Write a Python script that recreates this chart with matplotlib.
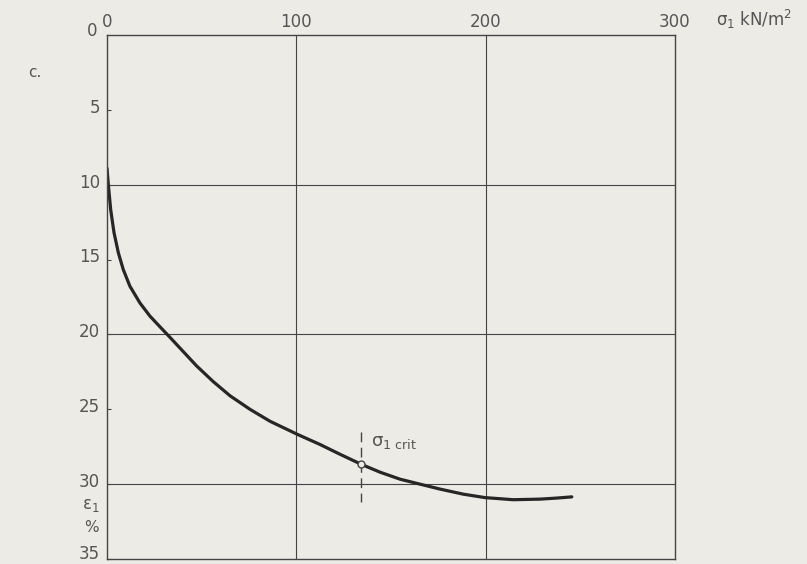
#!/usr/bin/env python3
# -*- coding: UTF-8 -*-
""" strain vs. vertical stress curve (scan recreation) """

import matplotlib
matplotlib.use("Agg")
import matplotlib.pyplot as plt
import matplotlib.transforms as mtransforms

# data
sigma = [0, 0.7, 1.95, 3.7, 6.0, 8.6, 12.1, 17.4, 22.7, 28.8, 33.3, 40.3,
         47.3, 56.1, 65, 75.5, 86.1, 101, 112.5, 123, 134.2, 144.2, 154.8,
         165.3, 175.9, 188.2, 199.7, 214.6, 228.8, 237.6, 245.5]
eps = [8.9, 10.0, 11.67, 13.2, 14.55, 15.67, 16.78, 17.9, 18.78, 19.6,
       20.2, 21.15, 22.1, 23.15, 24.1, 25.0, 25.8, 26.7, 27.35, 28.0, 28.67,
       29.2, 29.67, 30.0, 30.33, 30.67, 30.9, 31.04, 31.0, 30.93, 30.85]
crit_sigma = 134.2
crit_eps = 28.67
crit_range = [26.5, 31.2]
x_ticks = [0, 100, 200, 300]
y_grid = [10, 20, 30]
y_minor = [5, 15, 25]

bg = "#ecebe6"
ink = "#444444"
txt = "#555555"
plt.rcParams['font.family'] = ['DejaVu Sans']
plt.rcParams['mathtext.fontset'] = 'dejavusans'

fig = plt.figure(figsize=(8.07, 5.64), dpi=100, facecolor=bg)
ax = fig.add_axes([107/807, 1-559/564, 568/807, 524/564])
ax.set_facecolor(bg)
ax.set_xlim(0, 300)
ax.set_ylim(35, 0)

for s in ax.spines.values():
    s.set_color(ink)
    s.set_linewidth(1.0)

# grid lines
for xv in x_ticks[1:-1]:
    ax.axvline(xv, color=ink, lw=0.8)
for yv in y_grid:
    ax.axhline(yv, color=ink, lw=0.8)

ax.xaxis.tick_top()
ax.set_xticks(x_ticks)
ax.set_xticklabels([str(v) for v in x_ticks], fontsize=12, color=txt)
ax.tick_params(axis='x', length=0, pad=3)

y_ticks = y_minor + y_grid + [35]
ax.set_yticks(y_ticks)
ax.set_yticklabels([str(v) for v in y_ticks], fontsize=12, color=txt)
ax.tick_params(axis='y', direction='in', length=3, color=ink, pad=5)
# labels in the scan sit a little above their ticks
shift = mtransforms.ScaledTranslation(0, 3/72, fig.dpi_scale_trans)
shift_low = mtransforms.ScaledTranslation(0, 5/72, fig.dpi_scale_trans)
labs = ax.get_yticklabels()
for lab in labs[:-1]:
    lab.set_transform(lab.get_transform() + shift)
labs[-1].set_transform(labs[-1].get_transform() + shift_low)

# main curve
ax.plot(sigma, eps, color="#262626", lw=2.3, solid_capstyle='round',
        solid_joinstyle='round')

# critical stress marker
ax.plot([crit_sigma, crit_sigma], crit_range, color=ink, lw=1.0,
        ls=(0, (7, 4)))
ax.plot(crit_sigma, crit_eps, 'o', ms=5, mfc=bg, mec=ink, mew=1.0, zorder=5)
ax.text(crit_sigma + 5, 27.2, "σ$_{1\\ \\mathrm{crit}}$", fontsize=13,
        color=txt, va='center', ha='left')

# labels
fig.text(97/807, 1-31/564, "0", fontsize=12, color=txt, ha='right',
         va='center')
fig.text(716/807, 1-19/564, "σ$_1$ kN/m$^2$", fontsize=12, color=txt,
         ha='left', va='center')
fig.text(100/807, 1-505/564, "ε$_1$", fontsize=12, color=txt,
         ha='right', va='center')
fig.text(99/807, 1-527/564, "%", fontsize=11, color=txt, ha='right',
         va='center')
fig.text(28/807, 1-73/564, "c.", fontsize=11, color=txt, ha='left',
         va='center')

fig.savefig("out.png", dpi=100, facecolor=bg)
